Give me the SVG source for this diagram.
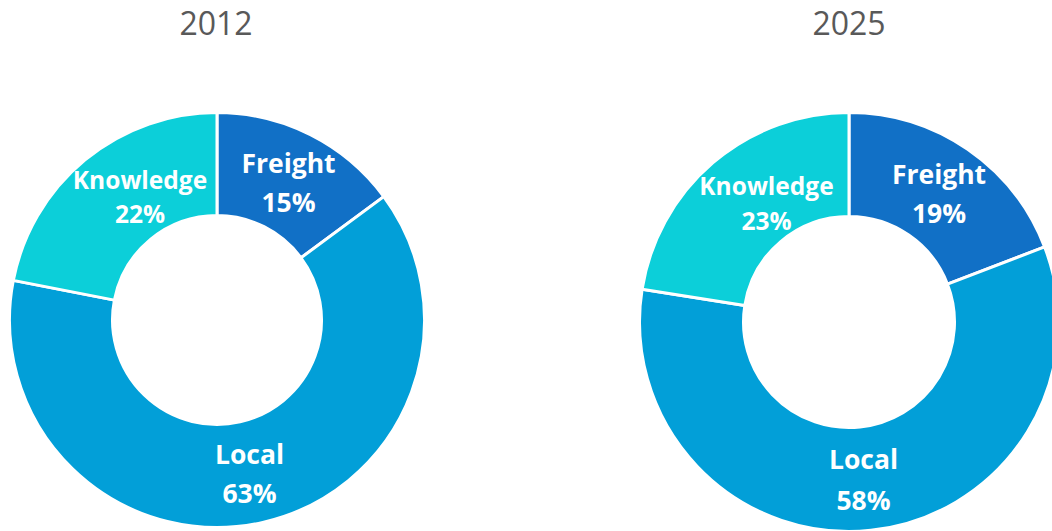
<svg xmlns="http://www.w3.org/2000/svg" width="1052" height="531" viewBox="0 0 1052 531">
<style>
.slice{stroke:#ffffff;stroke-width:3;stroke-linejoin:miter}
.freight{fill:#1170C6}
.local{fill:#029FD8}
.knowledge{fill:#0CCFD9}
.title{font-family:"Open Sans","Noto Sans","Liberation Sans",sans-serif;font-size:32px;fill:#595959;text-anchor:middle}
.lbl{font-family:"Open Sans","Noto Sans","Liberation Sans",sans-serif;font-weight:bold;fill:#ffffff;text-anchor:middle}
.s24{font-size:24.5px}
.s25{font-size:26.5px}
</style>
<rect width="1052" height="531" fill="#ffffff"/>
<g id="chart-2012">
<text class="title" x="216" y="35">2012</text>
<g id="slice-2012-freight">
<path class="slice freight" d="M217 112.5 A207.5 207.5 0 0 1 383.8 196.6 L301 257.8 A104.5 104.5 0 0 0 217 215.5 Z"/>
<text class="lbl s25" x="288.5" y="173">Freight</text>
<text class="lbl s25" x="288.5" y="212">15%</text>
</g>
<g id="slice-2012-local">
<path class="slice local" d="M383.8 196.6 A207.5 207.5 0 1 1 13.3 280.4 L114.4 300.1 A104.5 104.5 0 1 0 301 257.8 Z"/>
<text class="lbl s25" x="249.5" y="464">Local</text>
<text class="lbl s25" x="249.5" y="503">63%</text>
</g>
<g id="slice-2012-knowledge">
<path class="slice knowledge" d="M13.3 280.4 A207.5 207.5 0 0 1 217 112.5 L217 215.5 A104.5 104.5 0 0 0 114.4 300.1 Z"/>
<text class="lbl s24" x="140" y="189">Knowledge</text>
<text class="lbl s24" x="140" y="223">22%</text>
</g>
</g>
<g id="chart-2025">
<text class="title" x="849" y="35">2025</text>
<g id="slice-2025-freight">
<path class="slice freight" d="M849 112.5 A209.5 209.5 0 0 1 1044.6 246.9 L947.5 284.2 A105.5 105.5 0 0 0 849 216.5 Z"/>
<text class="lbl s25" x="939" y="184">Freight</text>
<text class="lbl s25" x="939" y="223">19%</text>
</g>
<g id="slice-2025-local">
<path class="slice local" d="M1044.6 246.9 A209.5 209.5 0 1 1 642.1 289.2 L744.8 305.5 A105.5 105.5 0 1 0 947.5 284.2 Z"/>
<text class="lbl s25" x="863.5" y="469">Local</text>
<text class="lbl s25" x="863.5" y="510">58%</text>
</g>
<g id="slice-2025-knowledge">
<path class="slice knowledge" d="M642.1 289.2 A209.5 209.5 0 0 1 849 112.5 L849 216.5 A105.5 105.5 0 0 0 744.8 305.5 Z"/>
<text class="lbl s24" x="766.5" y="195">Knowledge</text>
<text class="lbl s24" x="766.5" y="230">23%</text>
</g>
</g>
<g id="connectors"/>
</svg>
